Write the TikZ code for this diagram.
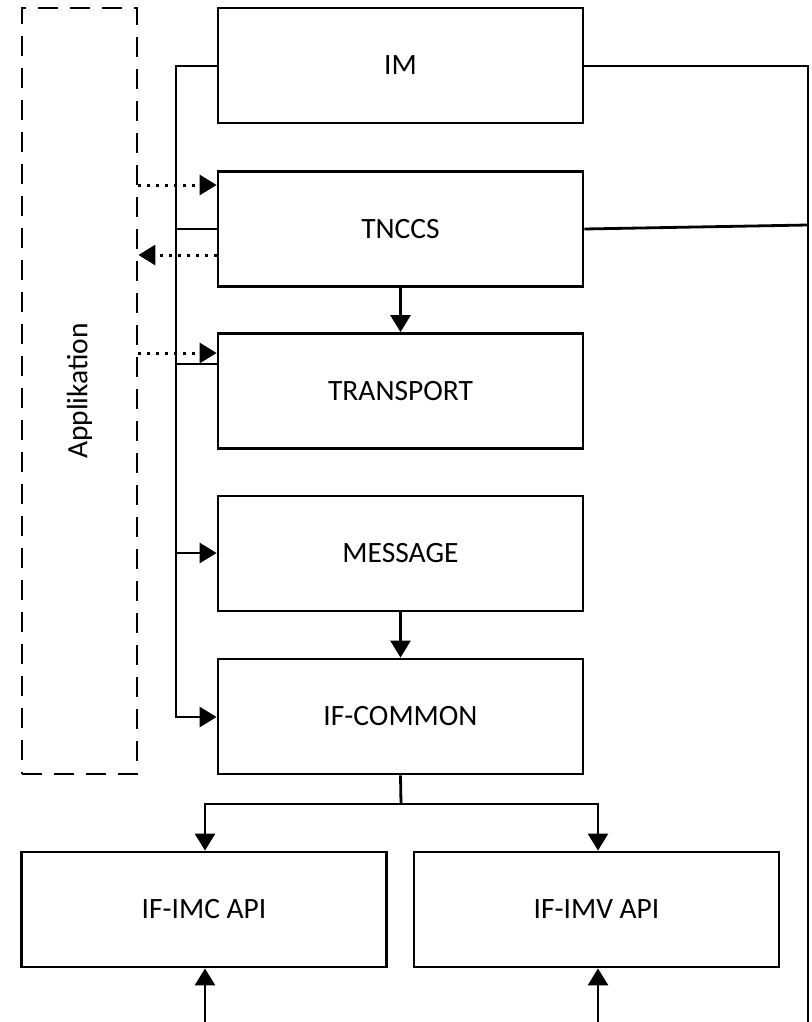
\documentclass[tikz,border=0pt]{standalone}
\usepackage{fontspec}
\setmainfont{Carlito}
\usetikzlibrary{arrows.meta}
\begin{document}
\begin{tikzpicture}[x=1pt,y=-1pt,
  line width=2.8pt,
  lbl/.style={font=\fontsize{29.5}{34}\selectfont},
  blk/.style={draw, minimum width=365pt, minimum height=115pt, inner sep=0pt, lbl},
  app/.style={draw, dashed, dash pattern=on 20pt off 12pt, minimum width=115pt,
    minimum height=766pt, inner sep=0pt},
  tip/.style={-{Triangle[length=17pt,width=20pt]}},
  dots/.style={dotted, line width=3pt, dash pattern=on 3pt off 6pt},
  wire/.style={line cap=rect}]
\useasboundingbox (0,0) rectangle (811,1022);
% dashed application frame
\node[app] (app) at (79.5,391) {};
\node[rotate=90, lbl] (applbl) at (79.5,391) {Applikation};
% layer stack
\node[blk] (im) at (400.5,65.5) {IM};
\node[blk] (tnccs) at (400.5,229) {TNCCS};
\node[blk] (transport) at (400.5,391) {TRANSPORT};
\node[blk] (message) at (400.5,553.5) {MESSAGE};
\node[blk] (common) at (400.5,716.5) {IF-COMMON};
\node[blk] (imc) at (204,909.5) {IF-IMC API};
\node[blk] (imv) at (596.5,909.5) {IF-IMV API};
% helper coordinates
\coordinate (busTop) at (176,66);
\coordinate (busBot) at (176,717);
\coordinate (rTop) at (808,66);
\coordinate (rTn) at (808,225);
\coordinate (rBot) at (808,1023);
\coordinate (split) at (401,804);
\coordinate (bImc) at (205,1023);
\coordinate (bImv) at (598,1023);
% left bus
\draw[wire] (im.west |- busTop) -- (busTop) -- (busBot);
\draw (tnccs.west) -- (176,229);
\draw (transport.west |- 0,364) -- (176,364);
\draw[tip] (176,553) -- (message.west |- 0,553);
\draw[tip] (busBot) -- (common.west |- busBot);
% dotted links to the application
\draw[dots, tip] (app.east |- 0,185) -- (tnccs.west |- 0,185);
\draw[dots, tip] (tnccs.west |- 0,255) -- (app.east |- 0,255);
\draw[dots, tip] (app.east |- 0,353) -- (transport.west |- 0,353);
% vertical flow
\draw[tip] (tnccs.south) -- (transport.north);
\draw[tip] (message.south) -- (common.north);
\draw (common.south) -- (split);
\draw[tip] (split) -| (imc.north -| bImc);
\draw[tip] (split) -| (imv.north -| bImv);
% right return line
\draw[wire] (im.east |- rTop) -- (rTop) -- (rBot);
\draw (tnccs.east) -- (rTn);
\draw (bImc) -- (rBot);
\draw[tip] (bImc) -- (imc.south -| bImc);
\draw[tip] (bImv) -- (imv.south -| bImv);
\end{tikzpicture}
\end{document}
